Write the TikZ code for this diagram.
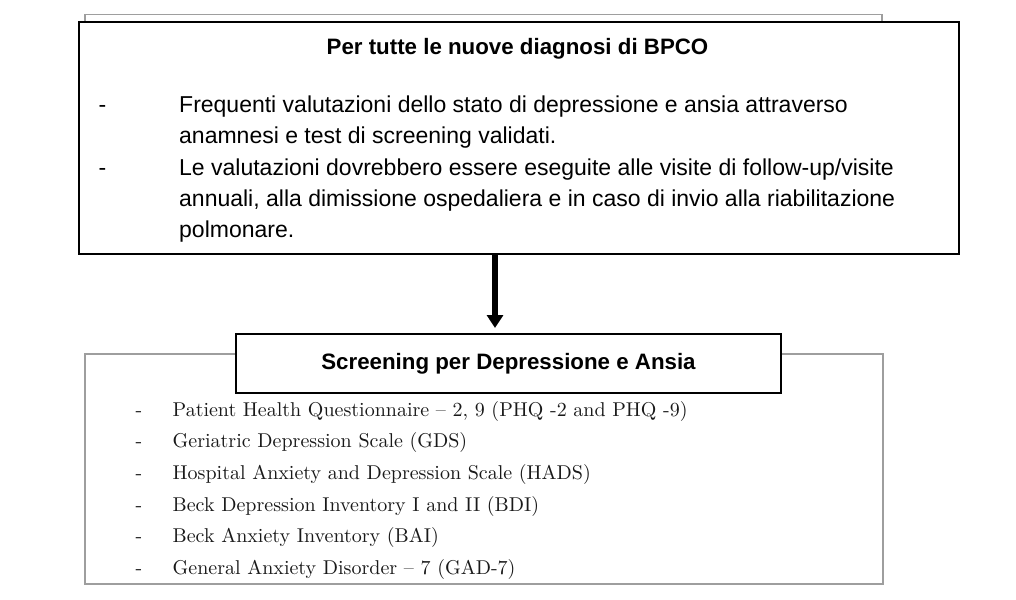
\documentclass[tikz,border=0pt]{standalone}
\usepackage{fontspec}
\newfontfamily\boxfont{Liberation Sans}
\newfontfamily\listfont{lmroman10-regular.otf}[Ligatures=TeX]
\usetikzlibrary{positioning, arrows.meta}

\tikzset{
  frame/.style={draw=black!38, line width=1.5pt, inner sep=0pt, anchor=north west},
  mainbox/.style={draw, line width=1.6pt, fill=white, inner sep=0pt},
  heading/.style={font=\boxfont\bfseries\fontsize{22.3}{27}\selectfont},
  bodyline/.style={font=\boxfont\fontsize{23}{27}\selectfont, inner sep=0pt,
                   text height=17pt, text depth=5pt},
  listline/.style={font=\listfont\fontsize{20}{24}\selectfont, text=black!90, inner sep=0pt,
                   text height=15pt, text depth=5pt},
}

\begin{document}
\begin{tikzpicture}[x=1pt, y=-1pt]
    \useasboundingbox (0,0) rectangle (1016,599);

    % cornici grigie dietro
    \node[frame, minimum width=797pt, minimum height=110pt] (oldframe)  at (84,14)  {};
    \node[frame, minimum width=798pt, minimum height=230pt] (listframe) at (84,353) {};

    % riquadro in alto
    \node[mainbox, anchor=north west, minimum width=880pt, minimum height=232pt] (diag) at (78,21) {};
    \node[heading, anchor=base]                             (dtitle) at (517.5,55) {Per tutte le nuove diagnosi di BPCO};
    \node[bodyline, anchor=base west]                       (line 1) at (179,112.7) {Frequenti valutazioni dello stato di depressione e ansia attraverso};
    \node[bodyline, below=8.8pt of line 1.south west, anchor=north west] (line 2) {anamnesi e test di screening validati.};
    \node[bodyline, below=8.8pt of line 2.south west, anchor=north west] (line 3) {Le valutazioni dovrebbero essere eseguite alle visite di follow-up/visite};
    \node[bodyline, below=8.8pt of line 3.south west, anchor=north west] (line 4) {annuali, alla dimissione ospedaliera e in caso di invio alla riabilitazione};
    \node[bodyline, below=8.8pt of line 4.south west, anchor=north west] (line 5) {polmonare.};
    \node[bodyline, anchor=base]                            (dash 1) at (102.5,112.7) {-};
    \node[bodyline, anchor=base]                            (dash 2) at (line 3.base -| dash 1) {-};

    % riquadro screening
    \node[mainbox, heading, minimum width=545pt, minimum height=59pt] (screen) at (508.5,363.5) {Screening per Depressione e Ansia};
    \node[listline, anchor=base west]                       (item 1) at (172.5,416) {Patient Health Questionnaire – 2, 9 (PHQ -2 and PHQ -9)};
    \node[listline, below=11.3pt of item 1.south west, anchor=north west] (item 2) {Geriatric Depression Scale (GDS)};
    \node[listline, below=11.3pt of item 2.south west, anchor=north west] (item 3) {Hospital Anxiety and Depression Scale (HADS)};
    \node[listline, below=11.3pt of item 3.south west, anchor=north west] (item 4) {Beck Depression Inventory I and II (BDI)};
    \node[listline, below=11.3pt of item 4.south west, anchor=north west] (item 5) {Beck Anxiety Inventory (BAI)};
    \node[listline, below=11.3pt of item 5.south west, anchor=north west] (item 6) {General Anxiety Disorder – 7 (GAD-7)};
    \node[listline, anchor=base] (mark 1) at (139,416) {-};
    \node[listline, anchor=base] (mark 2) at (item 2.base -| mark 1) {-};
    \node[listline, anchor=base] (mark 3) at (item 3.base -| mark 1) {-};
    \node[listline, anchor=base] (mark 4) at (item 4.base -| mark 1) {-};
    \node[listline, anchor=base] (mark 5) at (item 5.base -| mark 1) {-};
    \node[listline, anchor=base] (mark 6) at (item 6.base -| mark 1) {-};

    % freccia
    \coordinate (tip) at (495,328);
    \draw[line width=6.5pt, -{Triangle[width=16pt,length=13pt]}] (diag.south -| tip) -- (tip);
\end{tikzpicture}
\end{document}
